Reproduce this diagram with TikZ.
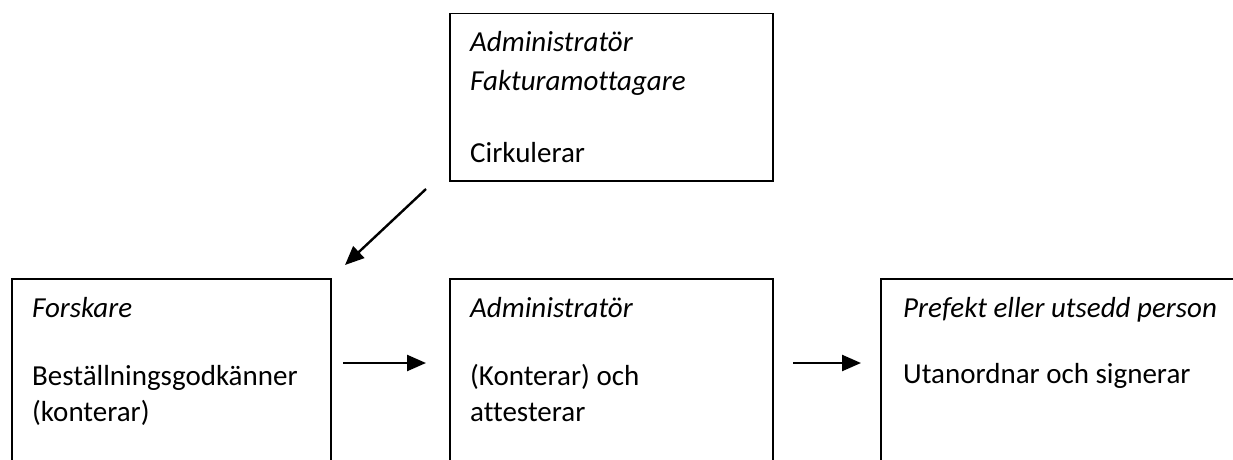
\documentclass[tikz,border=0pt]{standalone}
\usepackage{fontspec}
\setmainfont{Carlito}[Ligatures=NoCommon]
\usetikzlibrary{arrows.meta}
\begin{document}
\begin{tikzpicture}[x=1pt,y=-1pt,
  box/.style={draw, line width=1.5pt, inner sep=0pt, anchor=north west},
  txt/.style={anchor=base west, inner sep=0pt, font=\fontsize{29}{35}\selectfont},
  flow/.style={line width=2.4pt, -{Triangle[length=19pt,width=16pt]}}]
\useasboundingbox (0,0) rectangle (1233,460);
\clip (0,0) rectangle (1233,460);
% boxes
\node[box, minimum width=323pt, minimum height=167pt] (admtop) at (449,13){};
\node[box, minimum width=319pt, minimum height=250pt] (forsk) at (11,278){};
\node[box, minimum width=323pt, minimum height=250pt] (adm) at (449,278){};
\node[box, minimum width=400pt, minimum height=250pt] (pref) at (880,278){};
% texts
\node[txt] (t1) at (470,52){\itshape Administratör};
\node[txt] (t2) at (470,90){\itshape Fakturamottagare};
\node[txt] (t3) at (470,162){Cirkulerar};
\node[txt] (t4) at (32,317){\itshape Forskare};
\node[txt] (t5) at (32,385){Beställningsgodkänner};
\node[txt] (t6) at (32,421){(konterar)};
\node[txt] (t7) at (470,317){\itshape Administratör};
\node[txt] (t8) at (470,385){(Konterar) och};
\node[txt] (t9) at (470,421){attesterar};
\node[txt] (t10) at (903,317){\itshape Prefekt eller utsedd person};
\node[txt] (t11) at (903,383){Utanordnar och signerar};
% arrows
\coordinate (d0) at (426,189);
\coordinate (d1) at (345,265);
\coordinate (h0) at (343,363);
\coordinate (h1) at (426,363);
\coordinate (h2) at (793,363);
\coordinate (h3) at (861,363);
\draw[flow] (d0) -- (d1);
\draw[flow] (h0) -- (h1);
\draw[flow] (h2) -- (h3);
\end{tikzpicture}
\end{document}
